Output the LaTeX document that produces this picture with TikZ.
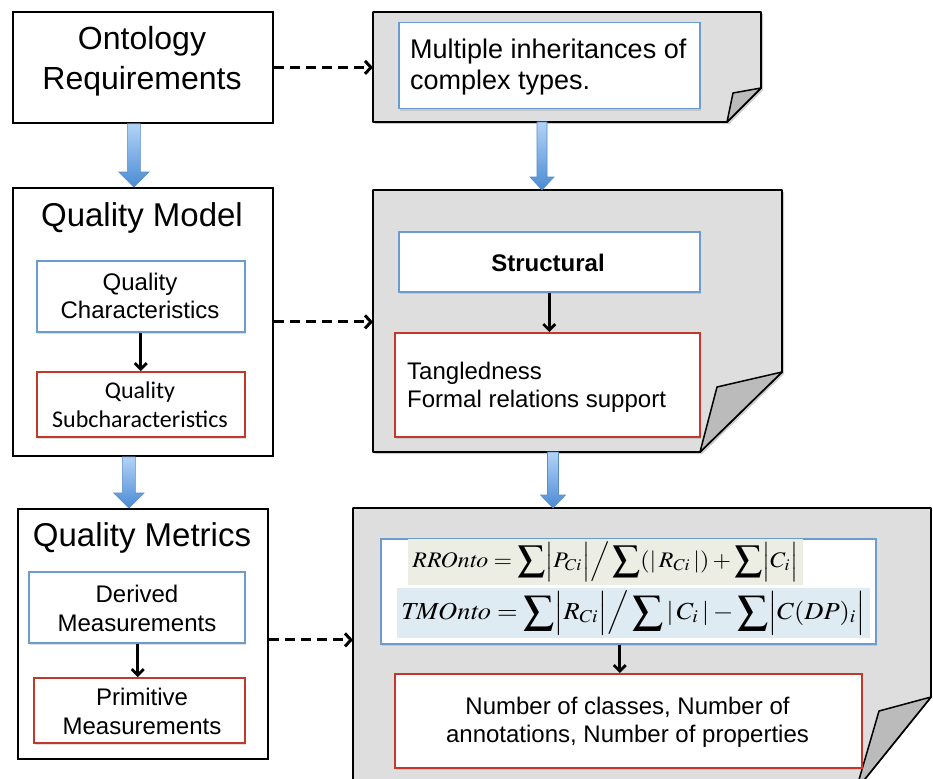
\documentclass[tikz,border=0pt]{standalone}
\usepackage{mathptmx}
\usepackage[no-math]{fontspec}
\setmainfont{Liberation Sans}
\newfontfamily\calfont{Carlito}
\usepackage{graphicx}
\usetikzlibrary{arrows.meta,shadows,calc}
\newcommand{\fsz}[1]{\fontsize{#1pt}{#1pt}\selectfont}
\newcommand{\bigsum}{\mathop{\vcenter{\hbox{\scalebox{1.15}{$\displaystyle\sum$}}}}\nolimits}
\definecolor{boxgray}{HTML}{DEDEDE}
\definecolor{foldgray}{HTML}{BBBBBB}
\definecolor{bluebd}{HTML}{6C9BD2}
\definecolor{redbd}{HTML}{C0392B}
\definecolor{greenbg}{HTML}{ECEEE3}
\definecolor{bluebg}{HTML}{DFEBF2}
\definecolor{arrtop}{HTML}{B4D3F7}
\definecolor{arrbot}{HTML}{4A8BD4}
\definecolor{arredge}{HTML}{5A8CC8}
\newcommand{\blockarrow}[5]{\path[fatarrow] let \p1=(#1), \p2=(#2) in (\x1-#3,\y1) -- (\x1+#3,\y1) -- (\x1+#3,\y2+#5) -- (\x1+#4,\y2+#5) -- (\x1,\y2) -- (\x1-#4,\y2+#5) -- (\x1-#3,\y2+#5) -- cycle;}
\begin{document}
\begin{tikzpicture}[x=1pt,y=-1pt,
  outerbox/.style={draw=black, line width=1.8pt, fill=white, inner sep=0pt, anchor=north west,
    drop shadow={shadow xshift=1.5pt,shadow yshift=-1.5pt,opacity=0.25}},
  bluebox/.style={draw=bluebd, line width=1.5pt, fill=white, inner sep=0pt, anchor=north west,
    drop shadow={shadow xshift=1.5pt,shadow yshift=-2pt,opacity=0.25}},
  redbox/.style={bluebox, draw=redbd},
  anchorbox/.style={inner sep=0pt, outer sep=0pt, anchor=north west},
  txt/.style={inner sep=0pt, anchor=base},
  txtw/.style={inner sep=0pt, anchor=base west},
  foldfill/.style={fill=boxgray, draw=black, line width=1.8pt, line join=round},
  folddark/.style={fill=foldgray, draw=black, line width=1.5pt, line join=round},
  foldshadow/.style={fill=black, opacity=0.2},
  dasharrow/.style={line width=3pt, dash pattern=on 10pt off 6pt, -{Straight Barb[length=6pt,width=13pt]}},
  blkarrow/.style={line width=2.8pt, -{Straight Barb[length=6pt,width=12pt]}},
  fatarrow/.style={top color=arrtop, bottom color=arrbot, draw=arredge, line width=0.6pt}
]
\useasboundingbox (0,0) rectangle (933,778);
\fill[white] (0,0) rectangle (933,778);

% ---------- left column ----------
\node[outerbox, minimum width=260pt, minimum height=111pt] (ontreq) at (12,11) {};
\node[outerbox, minimum width=260pt, minimum height=268pt] (qm) at (12,187) {};
\node[bluebox, minimum width=208pt, minimum height=71pt] (qchar) at (36,260) {};
\node[redbox, minimum width=208pt, minimum height=65pt] (qsub) at (36,371) {};
\node[outerbox, minimum width=250pt, minimum height=250pt] (qmet) at (17,508) {};
\node[bluebox, minimum width=216pt, minimum height=71pt] (derived) at (28,571) {};
\node[redbox, minimum width=211pt, minimum height=65pt] (prim) at (33,677) {};

% ---------- right column: folded sheets ----------
\begin{scope}[shift={(2,2)}]
  \fill[foldshadow] (373,12) -- (761,12) -- (761,88) -- (727,122) -- (373,122) -- cycle;
  \fill[foldshadow] (373,190) -- (782,190) -- (782,372) -- (700,452) -- (373,452) -- cycle;
\end{scope}
\path[foldfill] (373,12) -- (761,12) -- (761,88) -- (727,122) -- (373,122) -- cycle;
\path[folddark] (761,88) -- (733,93) -- (727,122) -- cycle;
\node[anchorbox, minimum width=388pt, minimum height=110pt] (reqR) at (373,12) {};

\path[foldfill] (373,190) -- (782,190) -- (782,372) -- (700,452) -- (373,452) -- cycle;
\path[folddark] (782,372) -- (717,387) -- (700,452) -- cycle;
\node[anchorbox, minimum width=409pt, minimum height=262pt] (box2) at (373,190) {};

\path[foldfill] (353,508) -- (931,508) -- (931,697) -- (856,790) -- (353,790) -- cycle;
\path[folddark] (931,697) -- (879,711) -- (856,790) -- cycle;
\node[anchorbox, minimum width=578pt, minimum height=282pt] (box3) at (353,508) {};

\node[bluebox, minimum width=301pt, minimum height=86pt] (inreq) at (398,22) {};
\node[bluebox, minimum width=301pt, minimum height=60pt] (struct) at (398,231) {};
\node[redbox, minimum width=305pt, minimum height=104pt] (tang) at (394,332) {};
\node[bluebox, minimum width=495pt, minimum height=105pt] (formula) at (380,538) {};
\node[redbox, minimum width=467pt, minimum height=94pt] (num) at (394,673) {};

% ---------- formulas ----------
\node[fill=greenbg, inner sep=0pt, minimum width=395pt, minimum height=46pt] (rro) at (605.5,562)
  {\resizebox*{386pt}{40pt}{$\displaystyle \mathit{RROnto}=\bigsum\Bigl|P_{Ci}\Bigr|\Big/\bigsum(|\,R_{Ci}\,|)+\bigsum\Bigl|C_i\Bigr|$}};
\node[fill=bluebg, inner sep=0pt, minimum width=473pt, minimum height=50pt] (tmo) at (633.5,613)
  {\resizebox*{464pt}{44pt}{$\displaystyle \mathit{TMOnto}=\bigsum\Bigl|R_{Ci}\Bigr|\Big/\bigsum|\,C_i\,|-\bigsum\Bigl|C(DP)_i\Bigr|$}};

% ---------- texts ----------
\node[txt, font=\fsz{32}] (t-ont) at (142,50) {Ontology};
\node[txt, font=\fsz{32}] (t-req) at (142,90) {Requirements};
\node[txt, font=\fsz{33}] (t-qm) at (142,226) {Quality Model};
\node[txt, font=\fsz{24}] (t-qc1) at (140,290) {Quality};
\node[txt, font=\fsz{24}] (t-qc2) at (140,318) {Characteristics};
\node[txt, font=\calfont\fsz{24}] (t-qs1) at (140,398) {Quality};
\node[txt, font=\calfont\fsz{24}] (t-qs2) at (140,427) {Subcharacteristics};
\node[txt, font=\fsz{33}] (t-qmet) at (142,546) {Quality Metrics};
\node[txt, font=\fsz{24}] (t-d1) at (137,602) {Derived};
\node[txt, font=\fsz{24}] (t-d2) at (137,631) {Measurements};
\node[txt, font=\fsz{24}] (t-p1) at (142,705) {Primitive};
\node[txt, font=\fsz{24}] (t-p2) at (142,734) {Measurements};
\node[txtw, font=\fsz{27}] (t-m1) at (410,59) {Multiple inheritances of};
\node[txtw, font=\fsz{27}] (t-m2) at (410,90) {complex types.};
\node[txt, font=\bfseries\fsz{24}] (t-str) at (548,271) {Structural};
\node[txtw, font=\fsz{24}] (t-tg1) at (407,379) {Tangledness};
\node[txtw, font=\fsz{24}] (t-tg2) at (407,407) {Formal relations support};
\node[txt, font=\fsz{24}] (t-n1) at (627.5,714) {Number of classes, Number of};
\node[txt, font=\fsz{24}] (t-n2) at (627.5,742) {annotations, Number of properties};

% ---------- connectors ----------
\draw[dasharrow] (ontreq.east) -- (ontreq.east -| reqR.west);
\draw[dasharrow] (qm.east) -- (qm.east -| box2.west);
\draw[dasharrow] ([yshift=-6pt]qmet.east) -- ([yshift=-6pt]qmet.east -| box3.west);

\draw[blkarrow] (qchar.south) -- (qsub.north);
\draw[blkarrow] ([xshift=1pt]derived.south) -- ([xshift=1pt]derived.south |- prim.north);
\draw[blkarrow] (struct.south) -- (struct.south |- tang.north);
\draw[blkarrow] ([xshift=-8.5pt]formula.south) -- ([xshift=-8.5pt]formula.south |- num.north);

\blockarrow{[xshift=-9pt]ontreq.south}{qm.north}{6.5pt}{15pt}{15pt}
\blockarrow{[xshift=-14pt]qm.south}{qmet.north}{6.5pt}{15pt}{15pt}
\blockarrow{[xshift=-25pt]reqR.south}{box2.north}{5pt}{12pt}{13pt}
\blockarrow{[xshift=-24.5pt]box2.south}{box3.north}{5.5pt}{12.5pt}{13pt}
\end{tikzpicture}
\end{document}
